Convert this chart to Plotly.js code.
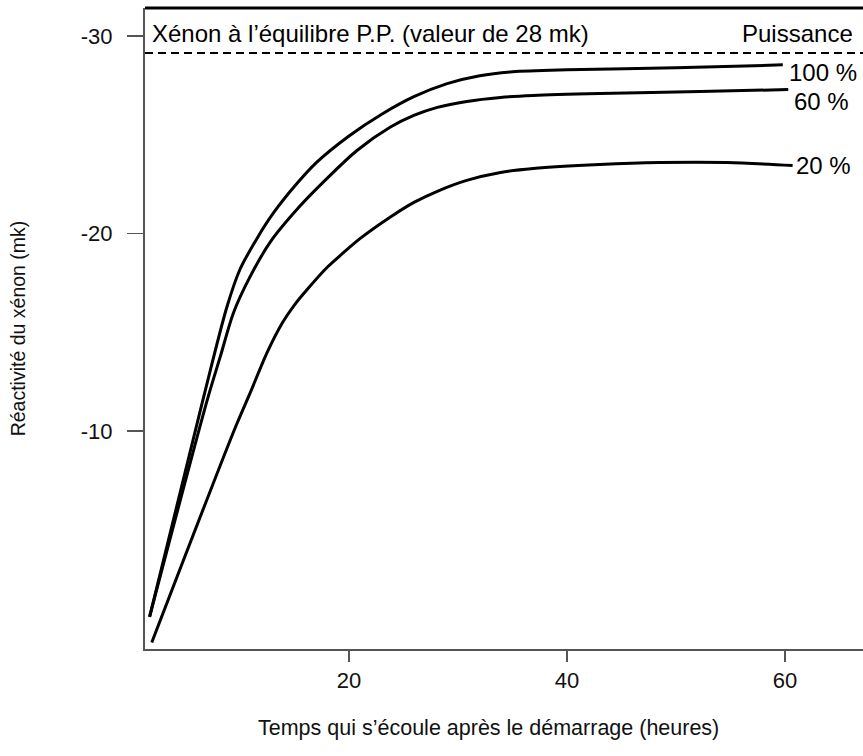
<!DOCTYPE html>
<html>
<head>
<meta charset="utf-8">
<script src="https://cdn.plot.ly/plotly-3.0.1.min.js"></script>
<style>html,body{margin:0;padding:0;background:#fff;}#chart{width:863px;height:756px;}</style>
</head>
<body>
<div id="chart"></div>
<script>
// Time after start-up (hours) and xenon reactivity (mk) for each power level
const hours100 = [1.7, 6.6, 8.8, 10.0, 11.6, 13.0, 15.0, 17.0, 20.0, 23.0, 26.0, 29.0, 32.0, 35.0, 40.0, 50.0, 59.8];
const xenon100 = [-0.6, -11.6, -16.3, -18.2, -19.8, -21.0, -22.4, -23.6, -24.95, -26.05, -26.95, -27.6, -28.0, -28.2, -28.3, -28.4, -28.55];

const hours60 = [1.7, 7.0, 8.2, 9.4, 10.9, 12.8, 15.5, 17.8, 20.7, 23.8, 26.0, 28.1, 30.8, 33.9, 36.9, 43.0, 52.2, 60.3];
const xenon60 = [-0.6, -11.6, -13.8, -16.0, -17.8, -19.6, -21.4, -22.7, -24.2, -25.4, -26.0, -26.4, -26.7, -26.9, -27.0, -27.1, -27.2, -27.3];

const hours20 = [1.9, 9.5, 10.9, 12.5, 13.9, 15.0, 16.2, 18.0, 19.2, 21.0, 23.8, 26.0, 28.1, 30.8, 33.9, 36.9, 43.0, 48.5, 54.7, 60.7];
const xenon20 = [0.7, -10.1, -11.9, -14.0, -15.5, -16.4, -17.2, -18.3, -18.9, -19.75, -20.85, -21.6, -22.15, -22.7, -23.1, -23.3, -23.5, -23.6, -23.6, -23.45];

const powerLabels = ["100 %", "60 %", "20 %"];
const equilibriumLevel = -29.15;
const equilibriumText = "Xénon à l’équilibre P.P. (valeur de 28 mk)";
const powerHeader = "Puissance";
const xTitle = "Temps qui s’écoule après le démarrage (heures)";
const yTitle = "Réactivité du xénon (mk)";
const xTickVals = [20, 40, 60];
const yTickVals = [-30, -20, -10];

const FONT = "Liberation Sans, Arial, Helvetica, sans-serif";

const series = [
  {x: hours100, y: xenon100, label: powerLabels[0], xshift: 4, yshift: -8},
  {x: hours60,  y: xenon60,  label: powerLabels[1], xshift: 4, yshift: -12},
  {x: hours20,  y: xenon20,  label: powerLabels[2], xshift: 1, yshift: 0}
];

const traces = series.map(s => ({
  x: s.x, y: s.y, type: "scatter", mode: "lines",
  line: {color: "#000", width: 3, shape: "spline", smoothing: 0.8},
  hoverinfo: "skip", showlegend: false
}));

const annotations = series.map(s => ({
  x: s.x[s.x.length - 1], y: s.y[s.y.length - 1], xref: "x", yref: "y",
  text: s.label, showarrow: false, xanchor: "left", yanchor: "middle",
  xshift: s.xshift, yshift: s.yshift,
  font: {family: FONT, size: 24, color: "#000"}
}));
annotations.push({
  x: 0, xref: "paper", y: equilibriumLevel, yref: "y",
  text: equilibriumText, showarrow: false, xanchor: "left", yanchor: "middle",
  xshift: 5, yshift: 20, font: {family: FONT, size: 24, color: "#000"}
});
annotations.push({
  x: 1, xref: "paper", y: equilibriumLevel, yref: "y",
  text: powerHeader, showarrow: false, xanchor: "right", yanchor: "middle",
  xshift: -8, yshift: 20, font: {family: FONT, size: 24, color: "#000"}
});
// x-axis title (offset to the left of the plot centre, as in the source)
annotations.push({
  x: 0.5, xref: "paper", y: 0, yref: "paper",
  text: xTitle, showarrow: false, xanchor: "center", yanchor: "middle",
  xshift: -16, yshift: -79, font: {family: FONT, size: 21.5, color: "#111"}
});

const layout = {
  width: 863, height: 756,
  margin: {l: 145, r: 0, t: 8, b: 107, pad: 0},
  paper_bgcolor: "#fff", plot_bgcolor: "#fff",
  font: {family: FONT, size: 22, color: "#111"},
  showlegend: false,
  xaxis: {
    range: [1.28, 67.16], tickvals: xTickVals, ticktext: xTickVals.map(String),
    showgrid: false, zeroline: false, showline: true, linecolor: "#555", linewidth: 2,
    ticks: "outside", ticklen: 11, tickwidth: 1.5, tickcolor: "#555",
    ticklabelstandoff: 0,
    tickfont: {family: FONT, size: 22, color: "#111"}
  },
  yaxis: {
    range: [1.03, -31.43], tickvals: yTickVals, ticktext: yTickVals.map(String),
    showgrid: false, zeroline: false, showline: true, linecolor: "#555", linewidth: 2,
    ticks: "outside", ticklen: 16, tickwidth: 1.5, tickcolor: "#555",
    ticklabelstandoff: 10,
    tickfont: {family: FONT, size: 22, color: "#111"},
    title: {text: yTitle, standoff: 50,
            font: {family: FONT, size: 19.5, color: "#111"}}
  },
  shapes: [
    {type: "line", xref: "paper", x0: 0, x1: 1, yref: "y", y0: equilibriumLevel, y1: equilibriumLevel,
     line: {color: "#000", width: 2, dash: "8px,5px"}},
    {type: "line", xref: "paper", x0: 0, x1: 1, yref: "paper", y0: 1, y1: 1,
     line: {color: "#000", width: 3}}
  ],
  annotations: annotations
};

Plotly.newPlot("chart", traces, layout, {staticPlot: true, displayModeBar: false});
</script>
</body>
</html>
